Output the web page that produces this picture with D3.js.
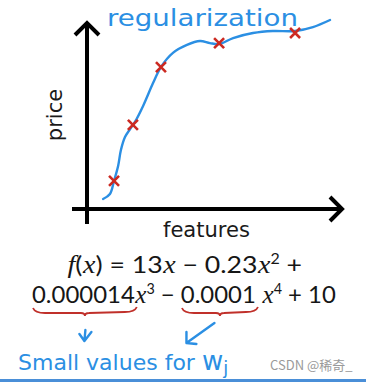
<!DOCTYPE html>
<html lang="en">
<head>
<meta charset="UTF-8">
<title>regularization</title>
<style>
  body, html { margin: 0; background: #fff; }
  svg { display: block; }
  .hand { fill: #2b8fe3; font-family: "DejaVu Sans", sans-serif; }
  .label { fill: #1a1a1a; font-family: "DejaVu Sans", sans-serif; }
  .num { font-family: Lato, "Open Sans", sans-serif; fill: #161616; }
  .var { font-family: "Liberation Serif", serif; font-style: italic; fill: #161616; }
</style>
</head>
<body>
<svg width="366" height="382"></svg>
<script src="https://cdn.jsdelivr.net/npm/d3@7"></script>
<script>
// points (features, price)
const pointX = [10.6, 18.0, 29.0, 51.8, 81.6];
const pointY = [15.1, 45.2, 76.3, 89.2, 94.6];

// hand drawn fit curve
const curveX = [6.3, 9.0, 10.6, 12.2, 13.3, 14.9, 16.9, 18.8, 22.0, 25.9, 29.0, 33.7, 39.2, 44.3, 48.2, 51.8, 57.3, 65.1, 72.9, 81.6, 88.6, 95.3];
const curveY = [5.4, 8.1, 15.1, 23.1, 31.7, 38.7, 43.0, 46.8, 55.4, 67.7, 76.3, 83.9, 88.2, 90.3, 89.2, 88.7, 91.9, 94.6, 95.7, 95.7, 97.8, 101.6];

// formula pieces: [text, kind, mark]
const line1 = [["f", "var"], ["(", "num"], ["x", "var"], [")", "num"], [" = 13", "num"], ["x", "var"], [" − 0.23", "num"], ["x", "var"], ["2", "sup"], [" +", "num"]];
const line2 = [["0.000014", "num", "c1"], ["x", "var"], ["3", "sup"], [" − ", "num"], ["0.0001", "num", "c2"], [" ", "num"], ["x", "var"], ["4", "sup"], [" + 10", "num"]];

const svg = d3.select("svg");

const x = d3.scaleLinear().domain([0, 100]).range([87, 342]);
const y = d3.scaleLinear().domain([0, 100]).range([209, 23]);

// axes
const ax = svg.append("g").attr("stroke", "#000").attr("stroke-width", 4)
  .attr("fill", "none").attr("stroke-linecap", "butt");
ax.append("line").attr("x1", x(0)).attr("x2", x(0)).attr("y1", y(0) + 15).attr("y2", y(100));
ax.append("line").attr("x1", x(0) - 15).attr("x2", x(100)).attr("y1", y(0)).attr("y2", y(0));
ax.append("path").attr("stroke-linejoin", "miter")
  .attr("d", `M${x(0) - 12},${y(100) + 12}L${x(0)},${y(100)}L${x(0) + 12},${y(100) + 12}`);
ax.append("path").attr("stroke-linejoin", "miter")
  .attr("d", `M${x(100) - 12},${y(0) - 12}L${x(100)},${y(0)}L${x(100) - 12},${y(0) + 12}`);

// curve
const line = d3.line().x(d => x(d[0])).y(d => y(d[1])).curve(d3.curveCatmullRom);
svg.append("path")
  .datum(d3.zip(curveX, curveY))
  .attr("d", line)
  .attr("fill", "none")
  .attr("stroke", "#2b8fe3")
  .attr("stroke-width", 2.4)
  .attr("stroke-linecap", "round");

// crosses
const s = 5;
svg.append("g").selectAll("path")
  .data(d3.zip(pointX, pointY))
  .join("path")
  .attr("d", d => `M${x(d[0]) - s},${y(d[1]) - s}L${x(d[0]) + s},${y(d[1]) + s}M${x(d[0]) + s},${y(d[1]) - s}L${x(d[0]) - s},${y(d[1]) + s}`)
  .attr("stroke", "#cc2a22")
  .attr("stroke-width", 2.6)
  .attr("fill", "none");

// labels
svg.append("text").attr("class", "hand")
  .attr("x", 107).attr("y", 26)
  .attr("font-size", 23)
  .attr("textLength", 191).attr("lengthAdjust", "spacingAndGlyphs")
  .text("regularization");

svg.append("text").attr("class", "label")
  .attr("transform", "translate(62,115) rotate(-90)")
  .attr("text-anchor", "middle")
  .attr("font-size", 21)
  .text("price");

svg.append("text").attr("class", "label")
  .attr("x", 163).attr("y", 237)
  .attr("font-size", 21)
  .attr("textLength", 87).attr("lengthAdjust", "spacingAndGlyphs")
  .text("features");

// formula: one text per line, tspans for the pieces
function layout(pieces, x0, x1, base, fs) {
  const t = svg.append("text").attr("class", "num").attr("font-size", fs)
    .style("white-space", "pre");
  let idx = 0, up = false;
  const marks = {};
  pieces.forEach(p => {
    const sup = p[1] === "sup";
    const ts = t.append("tspan")
      .attr("class", sup ? "num" : p[1])
      .attr("font-size", sup ? fs * 0.6 : (p[1] === "var" ? fs * 1.05 : fs))
      .text(p[0]);
    if (sup) { ts.attr("dy", -fs * 0.38); up = true; }
    else if (up) { ts.attr("dy", fs * 0.38); up = false; }
    if (p[1] === "var") ts.attr("dx", 0.5);
    if (p[2]) marks[p[2]] = [idx, idx + p[0].length - 1];
    idx += p[0].length;
  });
  const node = t.node();
  const w = node.getComputedTextLength();
  const k = (x1 - x0) / w;
  const out = {};
  Object.keys(marks).forEach(m => {
    const a = node.getExtentOfChar(marks[m][0]);
    const b = node.getExtentOfChar(marks[m][1]);
    out[m] = [x0 + a.x * k, x0 + (b.x + b.width) * k];
  });
  t.attr("transform", `translate(${x0},${base}) scale(${k},1)`);
  return out;
}

layout(line1, 67, 300, 273, 24);
const m = layout(line2, 32, 335, 303, 24);

// red braces under the small coefficients
function brace(a, b, yy) {
  const c = (a + b) / 2;
  return `M${a},${yy}Q${a + 2},${yy + 5} ${a + 12},${yy + 5}L${c - 4},${yy + 5}Q${c},${yy + 5} ${c},${yy + 8}Q${c},${yy + 5} ${c + 4},${yy + 5}L${b - 12},${yy + 4}Q${b - 2},${yy + 4} ${b},${yy - 1}`;
}
svg.append("g").attr("fill", "none").attr("stroke", "#c0302a").attr("stroke-width", 1.8)
  .selectAll("path").data([m.c1, m.c2]).join("path")
  .attr("d", d => brace(d[0] + 1, d[1] + 2, 308));

// blue arrows
const arr = svg.append("g").attr("fill", "none").attr("stroke", "#2b8fe3")
  .attr("stroke-width", 2.4).attr("stroke-linecap", "round").attr("stroke-linejoin", "round");
const a1 = (m.c1[0] + m.c1[1]) / 2 + 2;
arr.append("path").attr("d", `M${a1},330L${a1 - 1},341M${a1 - 6},334L${a1 - 1},341L${a1 + 6},332`);
const a2 = (m.c2[0] + m.c2[1]) / 2;
arr.append("path").attr("d", `M${a2 - 4},323L${a2 - 32},343M${a2 - 32},332L${a2 - 32},343L${a2 - 22},344`);

// bottom note
const note = svg.append("text").attr("class", "hand").attr("x", 18).attr("y", 370)
  .attr("font-size", 22);
note.append("tspan").text("Small values for ");
note.append("tspan").attr("font-size", 26).text("w");
note.append("tspan").attr("font-size", 18).attr("dy", 4).text("j");

svg.append("text")
  .attr("x", 270).attr("y", 370)
  .attr("font-family", "'Noto Sans CJK SC', 'Noto Sans', sans-serif")
  .attr("font-size", 13)
  .attr("fill", "#9a9a9a")
  .text("CSDN @稀奇_");

svg.append("rect").attr("x", 0).attr("y", 379).attr("width", 366).attr("height", 3).attr("fill", "#4a8fd8");
</script>
</body>
</html>
